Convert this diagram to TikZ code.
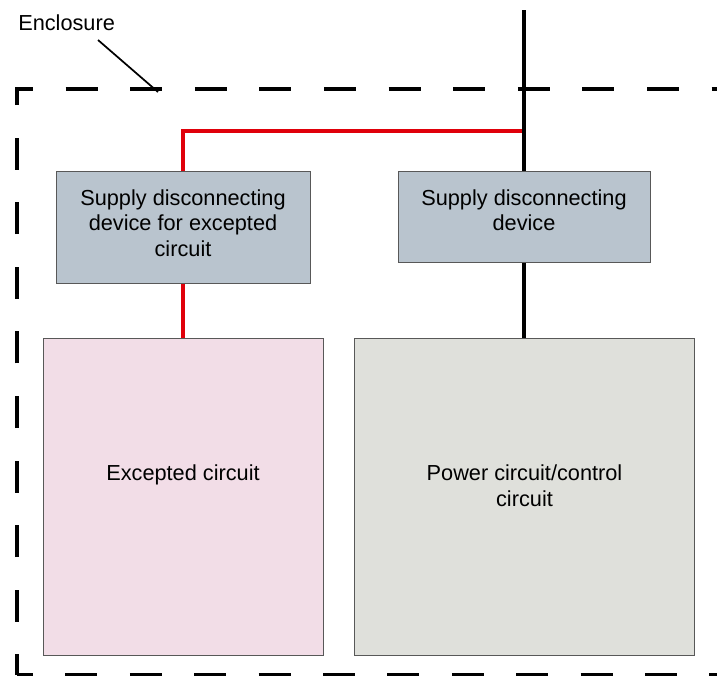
\documentclass[tikz,border=0pt]{standalone}
\usepackage{fontspec}
\setmainfont{Liberation Sans}
\newdimen\pxunit
\pxunit=0.75pt
\definecolor{devfill}{RGB}{185,196,206}
\definecolor{excfill}{RGB}{242,221,231}
\definecolor{pwrfill}{RGB}{223,224,219}
\definecolor{boxline}{RGB}{88,88,88}
\definecolor{wirered}{RGB}{224,0,10}
\tikzset{
  devbox/.style={draw=boxline, fill=devfill, line width=0.75pt, inner sep=0pt},
  excbox/.style={devbox, fill=excfill},
  pwrbox/.style={devbox, fill=pwrfill},
  mainwire/.style={line width=3pt, black},
  excwire/.style={line width=3pt, wirered},
  encl/.style={line width=3pt, black, line join=miter}
}
\begin{document}
\begin{tikzpicture}[x=0.75pt, y=-0.75pt,
    boxtext/.style={font=\fontsize{16.3}{19}\selectfont, align=center, anchor=base, inner sep=0pt},
    leader/.style={line width=1.3pt}
  ]
  \useasboundingbox (0,0) rectangle (717,675);
  \clip (0,0) rectangle (717,675);
  % enclosure, open towards right and bottom edge
  \draw[encl, dash pattern=on 24pt off 24.45pt, dash phase=8.55pt] (17,675) -- (17,89) -- (740,89);
  \draw[encl, dash pattern=on 24pt off 24.3pt, dash phase=12pt] (17,675) -- (740,675);
  \node[boxtext, anchor=base west] (enclab) at (18,30.7) {Enclosure};
  \coordinate (leadstart) at (98,40);
  \coordinate (leadend) at (158,92);
  \draw[leader] (leadstart) -- (leadend);
  % boxes
  \node[devbox, minimum width=254\pxunit, minimum height=112\pxunit] (sdx) at (183,227) {};
  \node[devbox, minimum width=252\pxunit, minimum height=91\pxunit] (sd) at (524,216.5) {};
  \node[excbox, minimum width=280\pxunit, minimum height=317\pxunit] (exc) at (183,496.5) {};
  \node[pwrbox, minimum width=340\pxunit, minimum height=317\pxunit] (pwr) at (524,496.5) {};
  % base anchor sits on the last text line
  \node[boxtext] (sdxtext) at (183,256) {Supply disconnecting\\device for excepted\\circuit};
  \node[boxtext] (sdtext) at (524,230.5) {Supply disconnecting\\device};
  \node[boxtext] (exctext) at (183,480.7) {Excepted circuit};
  \node[boxtext] (pwrtext) at (524.5,506) {Power circuit/control\\circuit};
  % wiring
  \coordinate (feed) at (524,10);
  \coordinate (tee) at (524,131);
  \draw[excwire] (sdx.north) |- (tee);
  \draw[excwire] (sdx.south) -- (exc.north);
  \draw[mainwire] (feed) -- (sd.north);
  \draw[mainwire] (sd.south) -- (pwr.north);
\end{tikzpicture}
\end{document}
